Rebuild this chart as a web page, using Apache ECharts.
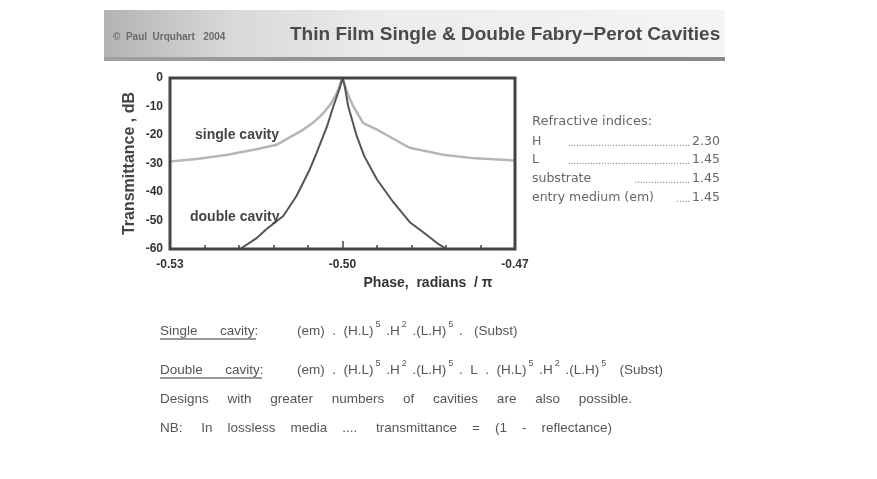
<!DOCTYPE html>
<html>
<head>
<meta charset="utf-8">
<script src="https://cdn.jsdelivr.net/npm/echarts@6/dist/echarts.min.js"></script>
<style>html,body{margin:0;padding:0;background:#fff}#c{width:877px;height:479px}</style>
</head>
<body>
<div id="c"></div>
<script>
// ---- data ----
const singlePhase = [-0.530,-0.525,-0.520,-0.515,-0.5114,-0.5068,-0.505,-0.5033,-0.502,-0.501,-0.5004,-0.500,-0.4996,-0.499,-0.4981,-0.4964,-0.494,-0.491,-0.4883,-0.4825,-0.477,-0.4713,-0.470];
const singleDb    = [-29.3,-28.3,-26.9,-25.0,-23.4,-18.1,-15.5,-12.3,-9.0,-5.3,-2.0,0,-2.5,-6.0,-10.0,-15.8,-18.1,-21.5,-24.5,-26.9,-28.2,-28.8,-29.0];
const doublePhase = [-0.5178,-0.515,-0.5132,-0.5103,-0.508,-0.5057,-0.5045,-0.5027,-0.5016,-0.5004,-0.500,-0.4996,-0.499,-0.4975,-0.4962,-0.494,-0.4912,-0.4883,-0.4859,-0.4835,-0.4819];
const doubleDb    = [-60,-56.3,-53,-48.4,-41.4,-32.1,-26.3,-17,-10,-3,0,-3,-10,-20.5,-27.5,-35.6,-43.5,-50.6,-54.2,-58,-60];
const xTickLabels = [-0.53, -0.50, -0.47];
const yTicks = [0,-10,-20,-30,-40,-50,-60];
const indexLabels = ['H', 'L', 'substrate', 'entry medium (em)'];
const indexValues = ['2.30', '1.45', '1.45', '1.45'];

const FF = "'Liberation Sans', Arial, sans-serif";
const FD = "'DejaVu Sans', sans-serif";
const chart = echarts.init(document.getElementById('c'));

function pairs(xs, ys){ return xs.map((x,i)=>[x, ys[i]]); }
function txt(t, x, y, font, fill, align, z){
  return {type:'text', z:z||2, style:{text:t, x:x, y:y, font:font, fill:fill,
    textAlign:align||'left', align:align||'left', textVerticalAlign:'middle', verticalAlign:'middle'}};
}
const richStyle = {
  n:{fontSize:13.5, fontFamily:FF, color:'#555', fill:'#555', lineHeight:18, verticalAlign:'bottom'},
  s:{fontSize:9, fontFamily:FF, color:'#555', fill:'#555', lineHeight:11, verticalAlign:'top', padding:[0,2,0,2]}
};
function formula(str, x, y){
  // str uses ^d for superscripts
  const t = str.replace(/\^(\d)/g, '}{s|$1}{n|');
  return {type:'text', z:2, style:{text:'{n|'+t+'}', x:x, y:y, rich:richStyle, font:'13.5px '+FF,
    textVerticalAlign:'middle', verticalAlign:'middle', fill:'#555'}};
}

const leaderDots = [44, 44, 20, 5];
const elements = [];
// header bar
elements.push({type:'rect', shape:{x:104,y:10,width:621,height:47}, style:{fill:new echarts.graphic.LinearGradient(0,0,1,0,[{offset:0,color:'#b3b3b3'},{offset:0.2,color:'#d8d8d8'},{offset:0.45,color:'#ececec'},{offset:1,color:'#f5f5f5'}])}, z:0});
elements.push({type:'rect', shape:{x:104,y:57,width:621,height:4}, style:{fill:new echarts.graphic.LinearGradient(0,0,1,0,[{offset:0,color:'#a0a0a0'},{offset:0.5,color:'#8c8c8c'},{offset:1,color:'#8a8a8a'}])}, z:0});
elements.push(txt('©  Paul  Urquhart   2004', 113, 37, 'bold 10px '+FF, '#6a6a6a'));
elements.push(txt('Thin Film Single & Double Fabry\u2212Perot Cavities', 290, 35, 'bold 19px '+FF, '#4a4a4a'));
// curve labels
elements.push(txt('single cavity', 195, 135, 'bold 14px '+FF, '#444', 'left', 5));
elements.push(txt('double cavity', 190, 217, 'bold 14px '+FF, '#444', 'left', 5));
// x axis name
elements.push(txt('Phase,  radians  / \u03c0', 428, 283, 'bold 14px '+FF, '#333', 'center'));
// refractive indices
elements.push(txt('Refractive indices:', 532, 122, '13px '+FD, '#666'));
const rowY = [142, 160, 179, 198];
indexLabels.forEach((lab,i)=>{
  elements.push(txt(lab, 532, rowY[i], '12.5px '+FD, '#666'));
  elements.push(txt('.'.repeat(leaderDots[i]), 690, rowY[i]+1, '10px '+FF, '#888', 'right'));
  elements.push(txt(indexValues[i], 692, rowY[i], '12.5px '+FD, '#666'));
});
// bottom text
const bodyFont = '13.5px '+FF;
const S = (n)=>' '.repeat(n);
elements.push(txt('Single'+S(6)+'cavity:', 160, 331, bodyFont, '#555'));
elements.push({type:'rect', shape:{x:160,y:338,width:96,height:2}, style:{fill:'#999'}, z:2});
elements.push(formula('(em)  .  (H.L)^5 .H^2 .(L.H)^5 .   (Subst)', 297, 329));
elements.push(txt('Double'+S(6)+'cavity:', 160, 370, bodyFont, '#555'));
elements.push({type:'rect', shape:{x:160,y:377,width:102,height:2}, style:{fill:'#999'}, z:2});
elements.push(formula('(em)  .  (H.L)^5 .H^2 .(L.H)^5 .  L  .  (H.L)^5 .H^2 .(L.H)^5   (Subst)', 297, 368));
elements.push(txt(['Designs','with','greater','numbers','of','cavities','are','also','possible.'].join(S(5)), 160, 399, bodyFont, '#555'));
elements.push(txt(['NB:','In','lossless','media','....','transmittance','=','(1','-','reflectance)'].join(S(4)).replace('NB:'+S(4),'NB:'+S(5)).replace('....'+S(4),'....'+S(5)), 160, 428, bodyFont, '#555'));

chart.setOption({
  animation:false,
  backgroundColor:'#fff',
  grid:{left:170, top:78, width:345, height:171, show:true, borderColor:'#444', borderWidth:3, backgroundColor:'transparent', z:4},
  xAxis:[{type:'value', min:-0.53, max:-0.47, interval:0.006,
    axisLine:{show:false, onZero:false}, splitLine:{show:false},
    axisTick:{show:true, inside:true, length:4, lineStyle:{color:'#444', width:1.5}},
    axisLabel:{margin:10, fontFamily:FF, fontSize:12, fontWeight:'bold', color:'#333',
      formatter:function(v){ for(const t of xTickLabels){ if(Math.abs(v-t)<1e-6) return t.toFixed(2); } return ''; }}
  },{type:'value', position:'bottom', min:-0.53, max:-0.47, interval:0.03,
    axisLine:{show:false, onZero:false}, splitLine:{show:false}, axisLabel:{show:false},
    axisTick:{show:true, inside:true, length:8, lineStyle:{color:'#444', width:1.5}}
  }],
  yAxis:{type:'value', min:-60, max:0, interval:10,
    axisLine:{show:false}, splitLine:{show:false}, axisTick:{show:false},
    axisLabel:{margin:7, fontFamily:FF, fontSize:12, fontWeight:'bold', color:'#333',
      formatter:function(v){ return yTicks.indexOf(Math.round(v))>=0 ? String(Math.round(v)) : ''; }},
    name:'Transmittance , dB', nameLocation:'middle', nameGap:32, nameRotate:90,
    nameTextStyle:{fontFamily:FF, fontSize:16, fontWeight:'bold', color:'#444'}
  },
  series:[
    {type:'line', data:pairs(singlePhase, singleDb), showSymbol:false, symbol:'none', clip:true,
     lineStyle:{color:'#b6b6b6', width:2.5}, z:2},
    {type:'line', data:pairs(doublePhase, doubleDb), showSymbol:false, symbol:'none', clip:true,
     lineStyle:{color:'#555', width:2}, z:3}
  ],
  graphic:{elements:elements}
});
</script>
</body>
</html>
